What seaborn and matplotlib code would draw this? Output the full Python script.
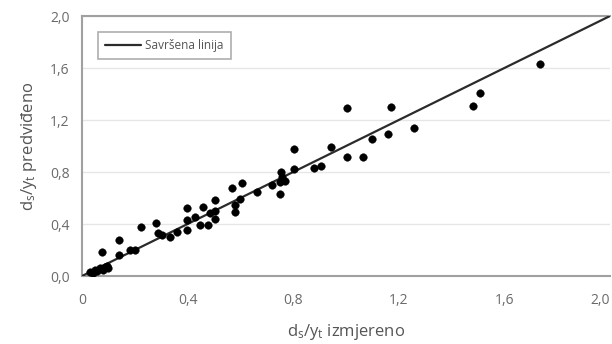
import matplotlib
matplotlib.use("Agg")
import matplotlib.pyplot as plt
import seaborn as sns
import pandas as pd

# Measured vs. predicted relative scour depth
measured = [0.030, 0.049, 0.068, 0.080, 0.087, 0.076, 0.140, 0.140, 0.182, 0.200,
            0.223, 0.280, 0.288, 0.303, 0.333, 0.360, 0.398, 0.398, 0.398, 0.428,
            0.447, 0.458, 0.477, 0.504, 0.504, 0.504, 0.485, 0.568, 0.606, 0.580,
            0.580, 0.598, 0.663, 0.720, 0.754, 0.758, 0.769, 0.750, 0.750, 0.803,
            0.803, 0.879, 0.905, 0.943, 1.004, 1.004, 1.064, 1.098, 1.159, 1.170,
            1.258, 1.481, 1.508, 1.735, 0.058, 0.095, 0.100, 0.040]
predicted = [0.031, 0.046, 0.062, 0.046, 0.069, 0.185, 0.277, 0.162, 0.200, 0.200,
             0.377, 0.408, 0.331, 0.315, 0.300, 0.338, 0.523, 0.431, 0.354, 0.454,
             0.392, 0.531, 0.392, 0.585, 0.500, 0.438, 0.485, 0.677, 0.715, 0.546,
             0.492, 0.592, 0.646, 0.700, 0.800, 0.762, 0.731, 0.723, 0.631, 0.977,
             0.823, 0.831, 0.846, 0.992, 1.292, 0.915, 0.915, 1.054, 1.092, 1.300,
             1.138, 1.308, 1.408, 1.631, 0.040, 0.080, 0.060, 0.025]

# Perfect-agreement line
line_x = [0.0, 2.0]
line_y = [0.0, 2.0]

x_ticks = [0.0, 0.4, 0.8, 1.2, 1.6, 2.0]
x_ticklabels = ["0", "0,4", "0,8", "1,2", "1,6", "2,0"]
y_ticks = [0.0, 0.4, 0.8, 1.2, 1.6, 2.0]
y_ticklabels = ["0,0", "0,4", "0,8", "1,2", "1,6", "2,0"]

sns.set_theme(style="white")
plt.rcParams["font.family"] = ["Open Sans", "DejaVu Sans"]
plt.rcParams["mathtext.default"] = "regular"

fig = plt.figure(figsize=(6.12, 3.44), dpi=100)
ax = fig.add_axes([82 / 612, 1 - 276 / 344, 528 / 612, 260 / 344])

points = pd.DataFrame({"measured": measured, "predicted": predicted})
perfect = pd.DataFrame({"x": line_x, "y": line_y})

sns.lineplot(data=perfect, x="x", y="y", ax=ax, color="#2b2b2b", linewidth=1.6,
             label="Savršena linija", zorder=3)
sns.scatterplot(data=points, x="measured", y="predicted", ax=ax, color="black",
                s=30, edgecolor="black", linewidth=0.3, zorder=4, legend=False)

ax.set_xlim(0, 2.0)
ax.set_ylim(0, 2.0)
ax.set_xticks(x_ticks)
ax.set_xticklabels(x_ticklabels)
ax.set_yticks(y_ticks)
ax.set_yticklabels(y_ticklabels)
xl = ax.get_xticklabels()
xl[-1].set_horizontalalignment("right")

ax.tick_params(axis="both", length=0, labelsize=10, labelcolor="#6a6a6a")
ax.tick_params(axis="x", pad=12)
ax.tick_params(axis="y", pad=9)

ax.grid(axis="y", color="#e6e6e6", linewidth=1.0)
ax.grid(axis="x", visible=False)
ax.set_axisbelow(True)

for side in ("left", "bottom", "top"):
    ax.spines[side].set_color("#a0a0a0")
    ax.spines[side].set_linewidth(1.5)
ax.spines["right"].set_visible(False)

ax.set_xlabel(r"d$_s$/y$_t$ izmjereno", fontsize=12, color="#555555", labelpad=10)
ax.set_ylabel(r"d$_s$/y$_t$ predviđeno", fontsize=12, color="#555555", labelpad=8)

leg = ax.legend(loc="upper left", bbox_to_anchor=(16 / 528, 1 - 16 / 260),
                fontsize=8.5, frameon=True, fancybox=False, borderpad=0.6,
                handlelength=3.0, handletextpad=0.4, borderaxespad=0)
leg.get_frame().set_edgecolor("#9a9a9a")
leg.get_frame().set_linewidth(1.2)
for t in leg.get_texts():
    t.set_color("#555555")

fig.savefig("out.png", dpi=100)
